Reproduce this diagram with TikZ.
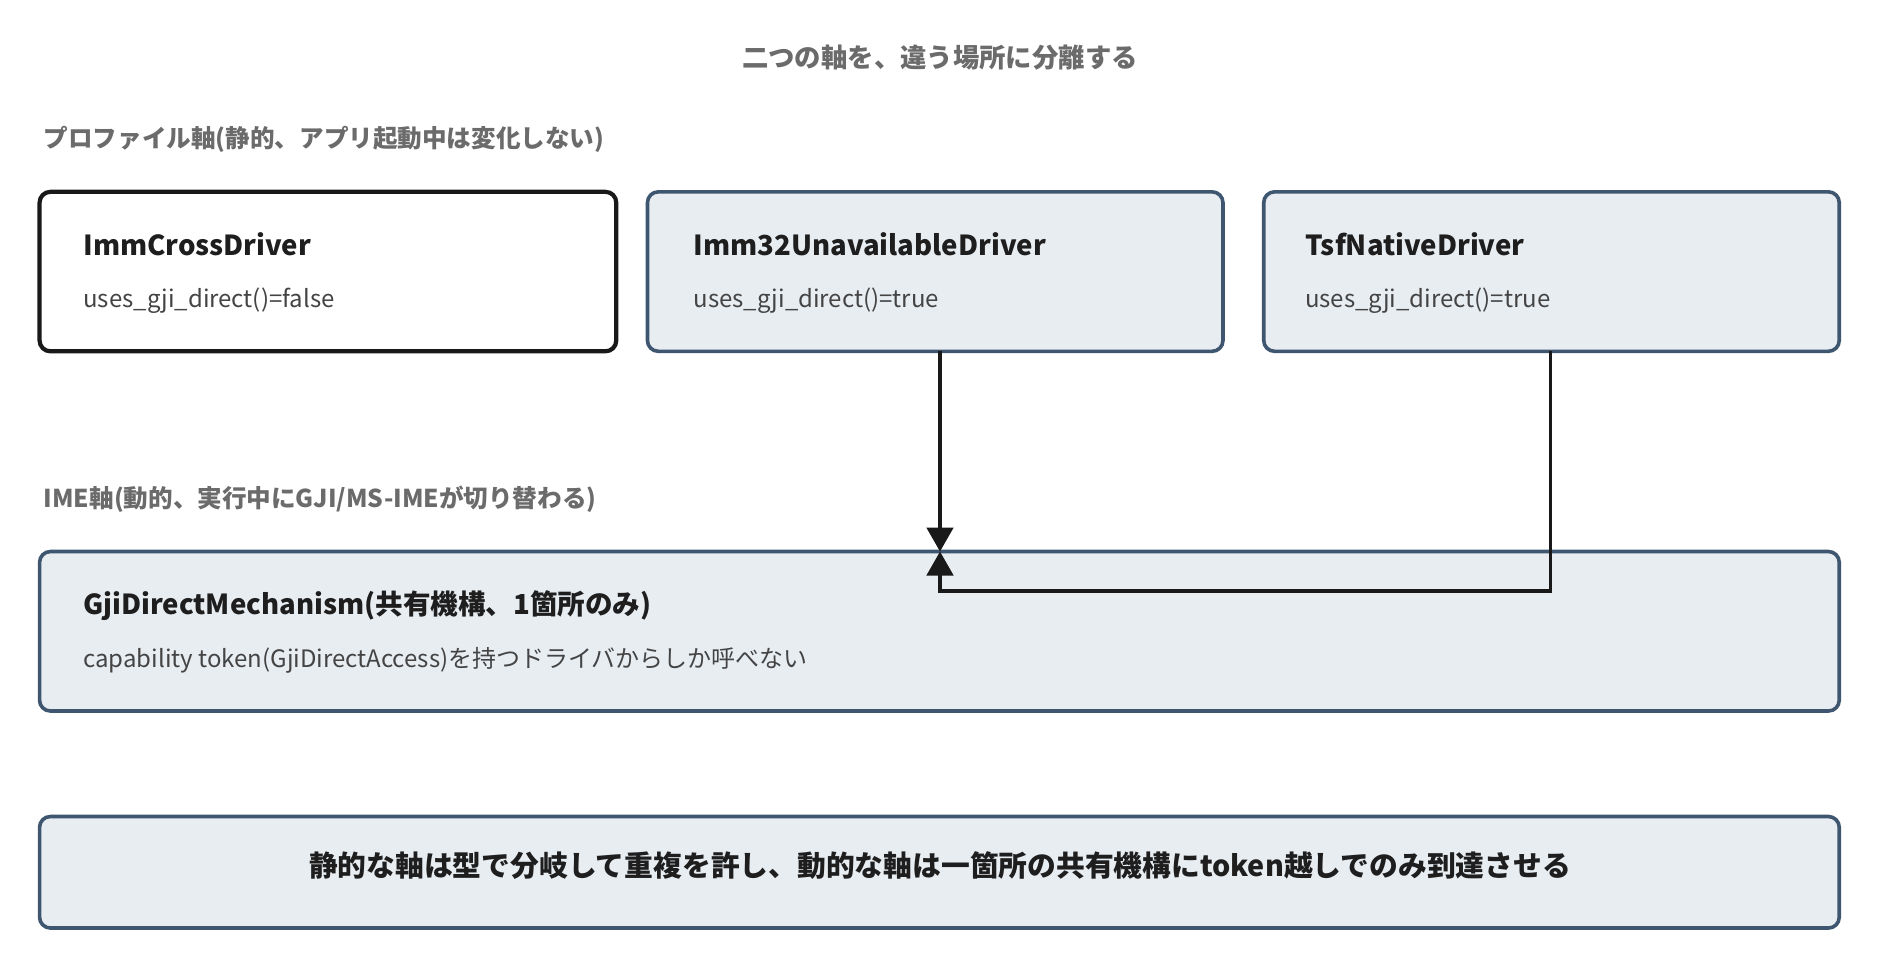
\documentclass[tikz,border=0pt]{standalone}
\usepackage{fontspec}
\setmainfont{Noto Sans CJK JP}
\usetikzlibrary{arrows.meta}
\definecolor{bfill}{HTML}{E8EDF2}
\definecolor{bdraw}{HTML}{3E5670}
\definecolor{tgray}{HTML}{6B6B6B}
\definecolor{tdark}{HTML}{1E1E1E}
\definecolor{tbody}{HTML}{444444}
\begin{document}
\begin{tikzpicture}[x=1pt,y=-1pt,
  box/.style={draw=bdraw,fill=bfill,line width=3pt,rounded corners=9pt},
  wbox/.style={draw=black!90,fill=white,line width=3.5pt,rounded corners=9pt},
  ttl/.style={anchor=west,font=\fontsize{23}{26}\selectfont\bfseries,text=tdark},
  bdy/.style={anchor=west,font=\fontsize{20}{24}\selectfont,text=tbody},
  sec/.style={anchor=west,font=\fontsize{20.5}{24}\selectfont\bfseries,text=tgray},
  conn/.style={draw=black!90,line width=3pt,-{Triangle[length=20pt,width=22pt]}}]
\useasboundingbox (0,0) rectangle (1568,804);
\node[font=\fontsize{22}{26}\selectfont\bfseries,text=tgray] (title) at (784,48) {二つの軸を、違う場所に分離する};
\node[sec] (s1) at (33,116) {プロファイル軸(静的、アプリ起動中は変化しない)};
\node[sec] (s2) at (33,416) {IME軸(動的、実行中にGJI/MS-IMEが切り替わる)};
\draw[wbox] (33,160) rectangle (514,293);
\draw[box] (540,160) rectangle (1020,293);
\draw[box] (1054,160) rectangle (1534,293);
\draw[box] (33,460) rectangle (1534,593);
\draw[box] (33,681) rectangle (1534,774);
\node[ttl] (a) at (66,204) {ImmCrossDriver};
\node[bdy] (a2) at (66,251) {uses\_gji\_direct()=false};
\node[ttl] (b) at (575,204) {Imm32UnavailableDriver};
\node[bdy] (b2) at (575,251) {uses\_gji\_direct()=true};
\node[ttl] (c) at (1085,204) {TsfNativeDriver};
\node[bdy] (c2) at (1085,251) {uses\_gji\_direct()=true};
\node[ttl] (d) at (66,505) {GjiDirectMechanism(共有機構、1箇所のみ)};
\node[bdy] (d2) at (66,551) {capability token(GjiDirectAccess)を持つドライバからしか呼べない};
\node[font=\fontsize{24}{28}\selectfont\bfseries,text=tdark] (e) at (784,722) {静的な軸は型で分岐して重複を許し、動的な軸は一箇所の共有機構にtoken越しでのみ到達させる};
\coordinate (bo) at (784,293);
\coordinate (co) at (1293,293);
\coordinate (in) at (784,460);
\draw[conn] (bo) -- (in);
\draw[conn] (co) -- (1293,493) -- (784,493) -- (in);
\end{tikzpicture}
\end{document}
